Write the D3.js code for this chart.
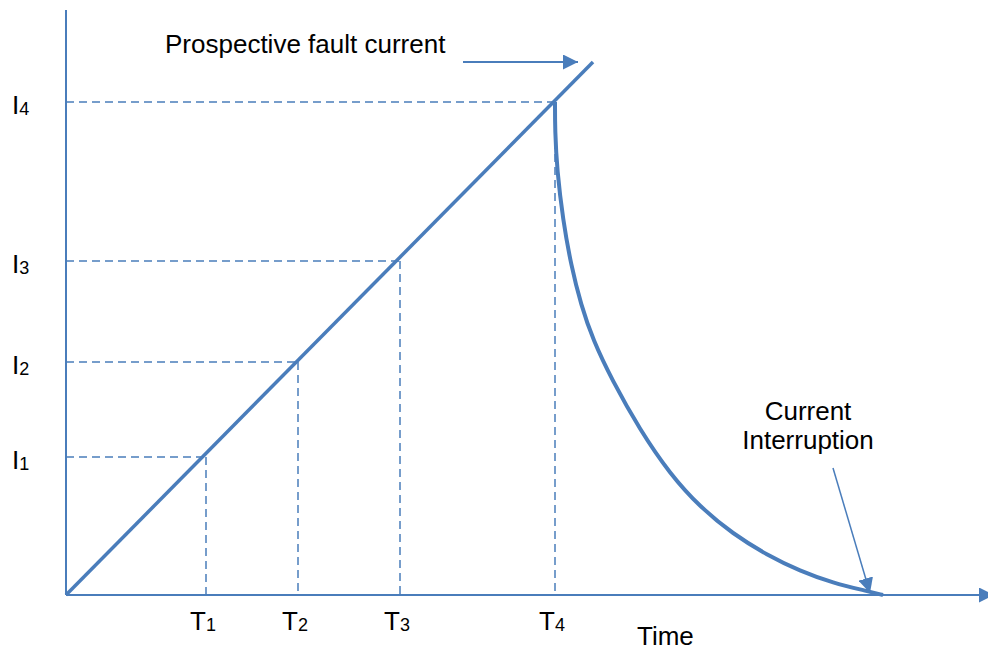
<!DOCTYPE html>
<html>
<head>
<meta charset="utf-8">
<script src="https://cdn.jsdelivr.net/npm/d3@7"></script>
<style>
  body { margin: 0; background: #fff; }
  svg { display: block; font-family: Arial, "Liberation Sans", sans-serif; }
</style>
</head>
<body>
<svg id="chart" width="988" height="650"></svg>
<script>
// values (arbitrary time / current units)
var tickT = [140, 232, 334, 489];
var tickI = [138, 233, 334, 493];
var subs = ['1', '2', '3', '4'];
var prospective = [[0, 0], [527, 533]];
var interruption = [[489, 493], [489, 465], [491, 425], [497, 375], [505, 330], [515, 290],
  [527, 255], [546, 215], [574, 165], [604, 121], [634, 88], [667, 61], [701, 40], [734, 24],
  [767, 12], [801, 4], [817, 0], [817, 0]];

var blue = '#4a7dbb';
var svg = d3.select('#chart');

var x = d3.scaleLinear().domain([0, 922]).range([66, 988]);
var y = d3.scaleLinear().domain([0, 585]).range([595, 10]);

var defs = svg.append('defs');
function arrowHead(id, w, h) {
  defs.append('marker')
    .attr('id', id)
    .attr('markerUnits', 'userSpaceOnUse')
    .attr('viewBox', '0 0 10 10')
    .attr('refX', 10).attr('refY', 5)
    .attr('markerWidth', w).attr('markerHeight', h)
    .attr('orient', 'auto')
    .append('path')
    .attr('d', 'M0,0L10,5L0,10Z')
    .attr('fill', blue);
}
arrowHead('head', 16, 15);
arrowHead('headSmall', 15, 15);

var line = d3.line().x(function (d) { return x(d[0]); }).y(function (d) { return y(d[1]); });

// axes
svg.append('line')
  .attr('x1', x(0)).attr('y1', y(0)).attr('x2', x(0)).attr('y2', y(585))
  .attr('stroke', blue).attr('stroke-width', 2);
svg.append('line')
  .attr('x1', x(0)).attr('y1', y(0)).attr('x2', x(928)).attr('y2', y(0))
  .attr('stroke', blue).attr('stroke-width', 2)
  .attr('marker-end', 'url(#head)');

// dashed guides
var g = svg.append('g').attr('stroke', blue).attr('stroke-width', 1.5)
  .attr('stroke-dasharray', '8,5').attr('fill', 'none');
g.selectAll('.h').data(tickI).enter().append('line')
  .attr('x1', x(0)).attr('x2', function (d, i) { return x(tickT[i]); })
  .attr('y1', function (d) { return y(d); }).attr('y2', function (d) { return y(d); });
g.selectAll('.v').data(tickT).enter().append('line')
  .attr('x1', function (d) { return x(d); }).attr('x2', function (d) { return x(d); })
  .attr('y1', function (d, i) { return y(tickI[i]); }).attr('y2', y(0));

// prospective fault current line
svg.append('path').datum(prospective)
  .attr('d', line).attr('fill', 'none')
  .attr('stroke', blue).attr('stroke-width', 3.5);

// interrupted current
svg.append('path').datum(interruption)
  .attr('d', d3.line().x(function (d) { return x(d[0]); }).y(function (d) { return y(d[1]); })
    .curve(d3.curveBasis))
  .attr('fill', 'none').attr('stroke', blue).attr('stroke-width', 4)
  .attr('stroke-linecap', 'butt');

// labels
var fs = 26, subFs = 18;
svg.selectAll('.ilab').data(tickI).enter().append('text')
  .attr('x', 12).attr('y', function (d) { return y(d) + 12; })
  .attr('font-size', fs)
  .each(function (d, i) {
    var t = d3.select(this);
    t.append('tspan').text('I');
    t.append('tspan').attr('font-size', subFs).attr('dy', 1).text(subs[i]);
  });
svg.selectAll('.tlab').data(tickT).enter().append('text')
  .attr('x', function (d) { return x(d) - 16; }).attr('y', 630)
  .attr('font-size', fs)
  .each(function (d, i) {
    var t = d3.select(this);
    t.append('tspan').text('T');
    t.append('tspan').attr('font-size', subFs).attr('dy', 1).text(subs[i]);
  });

svg.append('text').attr('x', x(571)).attr('y', y(-50))
  .attr('font-size', fs).text('Time');

svg.append('text').attr('x', x(99)).attr('y', y(542))
  .attr('font-size', fs).text('Prospective fault current');
svg.append('line')
  .attr('x1', x(397)).attr('y1', y(533)).attr('x2', x(512)).attr('y2', y(533))
  .attr('stroke', blue).attr('stroke-width', 2)
  .attr('marker-end', 'url(#head)');

svg.append('text').attr('x', x(742)).attr('y', y(175))
  .attr('font-size', fs).attr('text-anchor', 'middle').text('Current');
svg.append('text').attr('x', x(742)).attr('y', y(146))
  .attr('font-size', fs).attr('text-anchor', 'middle').text('Interruption');
svg.append('line')
  .attr('x1', x(767)).attr('y1', y(127)).attr('x2', x(804)).attr('y2', y(2))
  .attr('stroke', blue).attr('stroke-width', 1.5)
  .attr('marker-end', 'url(#headSmall)');
</script>
</body>
</html>
